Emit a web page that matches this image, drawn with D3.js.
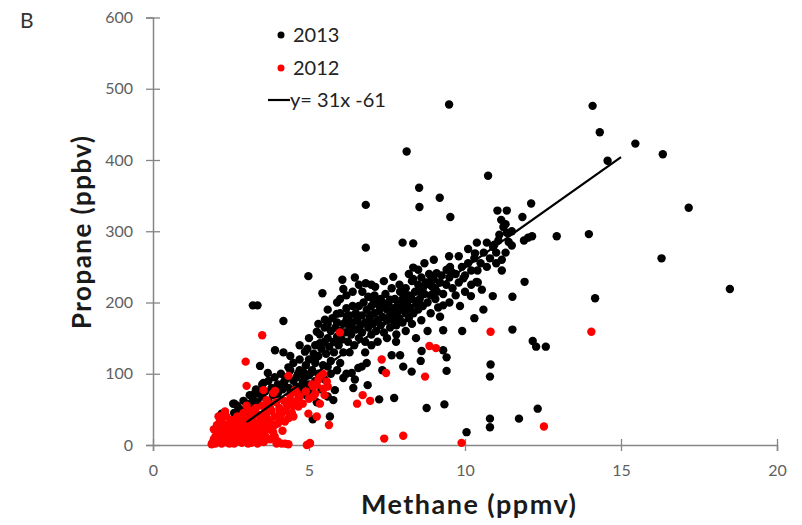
<!DOCTYPE html>
<html>
<head>
<meta charset="utf-8">
<script src="https://cdn.jsdelivr.net/npm/d3@7"></script>
<style>
  html, body { margin: 0; padding: 0; background: #fff; }
  svg { display: block; }
  text { font-family: Lato, "Open Sans", sans-serif; }
</style>
</head>
<body>
<svg id="chart" width="802" height="525"></svg>
<script>
// ---- Data (methane ppmv, propane ppbv) ----
const xTicks = [0, 5, 10, 15, 20];
const yTicks = [0, 100, 200, 300, 400, 500, 600];
const seriesNames = ["2013", "2012"];
const fitLabel = "y= 31x -61";
const fitLine = [[3.0, 32], [15.0, 404]];

const points2013 = [
  [9.49,478],[8.13,412],[8.53,361],[9.19,347],[8.54,334],[9.53,320],[10.74,378],[11.04,329],[11.34,329],[12.12,339],
  [11.84,320],[11.16,316],[11.23,306],[11.34,298],[11.07,287],[10.94,281],[10.38,284],[10.70,284],[10.32,269],[8.00,284],
  [8.34,283],[9.49,265],[11.18,260],[11.18,245],[14.09,476],[14.32,439],[15.46,423],[16.34,408],[14.57,399],[17.17,333],
  [12.94,293],[13.97,296],[12.15,293],[11.89,287],[12.02,291],[16.30,262],[11.91,229],[14.17,206],[18.49,219],[11.52,208],
  [10.89,209],[10.54,218],[10.41,228],[10.19,209],[9.84,195],[10.59,190],[10.30,178],[9.30,161],[9.91,160],[8.80,160],
  [11.52,162],[8.43,150],[12.17,146],[12.28,138],[12.59,138],[9.30,133],[8.61,132],[9.41,123],[7.92,126],[8.58,118],
  [8.02,110],[8.29,103],[9.41,104],[10.82,113],[10.80,96],[8.77,52],[9.34,57],[12.33,51],[10.80,37],[10.80,25],
  [11.73,37],[10.05,18],[7.79,145],[7.65,126],[7.35,105],[6.85,115],[6.69,110],[6.58,108],[6.37,101],[6.47,92],
  [6.10,94],[6.42,80],[6.88,84],[5.83,77],[5.78,63],[7.25,64],[7.73,66],[5.67,40],
  [4.18,174],[3.91,133],[4.18,130],[4.87,131],[5.25,159],[5.35,143],[3.43,111],[3.68,101],[4.34,109],[4.85,101],
  [3.54,87],[4.23,91],[3.27,73],[2.61,58],
  [6.82,337],[6.82,277],[4.98,237],[6.07,232],[6.47,235],[6.82,227],[6.10,219],[6.71,215],[7.12,222],[5.43,213],
  [3.20,196],[3.35,196],[5.51,176],[5.89,184],[6.21,181],[6.53,181],[6.96,182],[7.06,204],
  [7.70,236],[8.34,249],[8.50,246],[8.34,233],[9.52,250],[9.41,246],[9.57,243],[9.09,241],[8.93,234],[8.88,225],
  [9.04,220],[9.95,234],[10.37,229],[7.92,215],[8.08,211],[8.66,221],[8.56,215],[9.30,196],[9.14,193],[7.60,204],
  [7.38,199],[5.12,36],[4.87,98],[5.19,119],[2.2,44],[2.57,58],
  // dense core
  [4.6,95],[4.7,105],[4.8,88],[4.9,112],[5.0,98],[5.0,120],[4.95,135],[5.1,105],[5.15,128],[5.2,115],
  [5.2,140],[5.3,100],[5.3,125],[5.35,155],[5.4,135],[5.45,112],[5.5,145],[5.5,165],[5.55,128],[5.6,150],
  [5.6,170],[5.65,138],[5.7,118],[5.7,160],[5.75,178],[5.8,145],[5.8,130],[5.85,165],[5.9,152],[5.9,172],
  [5.95,140],[6.0,160],[6.0,185],[6.05,148],[6.1,170],[6.1,130],[6.15,158],[6.2,175],[6.2,192],[6.25,145],
  [6.3,165],[6.3,182],[6.35,155],[6.4,172],[6.4,195],[6.45,140],[6.5,162],[6.5,185],[6.55,175],[6.6,150],
  [6.6,195],[6.65,168],[6.7,182],[6.7,158],[6.75,200],[6.8,172],[6.8,145],[6.85,190],[6.9,165],[6.9,208],
  [6.95,178],[7.0,155],[7.0,195],[7.05,170],[7.1,185],[7.1,210],[7.15,160],[7.2,198],[7.2,175],[7.25,188],
  [7.3,168],[7.3,205],[7.35,180],[7.4,195],[7.4,158],[7.45,212],[7.5,175],[7.5,190],[7.55,200],[7.6,165],
  [7.6,182],[7.65,220],[7.7,192],[7.7,175],[7.75,205],[7.8,185],[7.8,168],[7.85,198],[7.9,178],[7.9,225],
  [7.95,190],[8.0,205],[8.0,172],[8.05,195],[8.1,185],[8.1,220],[8.15,200],[8.2,178],[8.2,210],[8.25,192],
  [8.3,230],[8.3,205],[8.35,185],[8.4,215],[8.45,198],[8.5,225],[8.5,190],[8.55,205],[8.6,235],[8.65,195],
  [8.7,212],[8.75,228],[8.8,200],[8.85,240],[8.9,210],[8.95,222],[9.0,232],[9.05,205],[9.1,215],[9.2,228],
  [9.25,238],[9.3,212],[9.4,225],[9.5,235],[9.6,220],[9.7,240],[9.8,228],[9.9,250],[10.0,238],[10.1,255],
  [10.2,245],[10.3,262],[10.5,255],[10.6,270],[10.8,262],[10.9,278],[11.0,270],[11.1,295],[11.3,310],[11.4,285],
  [11.5,300],
  // extra scatter around the band
  [5.3,170],[5.6,190],[5.9,200],[6.2,210],[6.0,205],[6.4,215],[6.6,225],[6.3,130],[6.8,130],[7.0,140],
  [7.2,145],[7.5,150],[7.8,155],[8.1,160],[8.3,170],[8.6,175],[8.9,185],[9.2,180],[9.5,200],[9.7,210],
  [10.0,215],[10.2,225],[9.8,265],[10.1,275],[10.4,245],[10.7,250],[11.0,255],[11.3,270],[11.5,280],[9.0,260],
  [8.7,255],[8.2,240],[7.4,230],[7.0,225],[5.0,150],[4.7,140],[4.4,125],[5.6,110],[6.0,115],[6.2,100],
  [5.9,105],
  // lower band (mixed with 2012)
  [2.6,45],[2.7,55],[2.8,50],[2.9,62],[3.0,58],[3.0,48],[3.1,70],[3.2,65],[3.2,55],[3.3,78],
  [3.35,60],[3.4,72],[3.5,68],[3.5,85],[3.6,75],[3.7,62],[3.7,90],[3.8,80],[3.85,70],[3.9,95],
  [4.0,85],[4.0,72],[4.1,100],[4.15,78],[4.2,88],[4.3,95],[4.35,80],[4.4,105],[4.5,90],[4.5,115],
  [4.6,82],[4.65,100],[4.7,120],[4.8,78],[4.85,95],[4.9,70],[5.0,85],[5.1,75],[5.2,90],[5.25,60],
  [5.4,78],[5.5,92],[5.6,68],[5.7,100]
];

const points2012 = [
  [3.50,154],[2.97,117],[4.34,97],[3.00,83],[3.91,76],[4.55,77],[2.31,47],[1.88,1],[4.12,2],[4.34,1],
  [5.03,2],[4.93,0],[5.03,3],[3.96,2],[4.23,2],[5.99,158],[7.33,120],[7.47,101],[8.72,96],[8.86,139],
  [9.07,136],[5.57,89],[6.72,70],[6.54,58],[6.96,62],[5.64,28],[7.41,9],[8.02,13],[9.89,3],[10.82,159],
  [14.05,159],[12.53,26],
  [5.35,96],[5.14,82],[5.46,79],[5.14,68],[5.35,58],[4.98,44],[5.25,40],[4.61,73],[4.66,54],[4.50,40],
  [4.23,33],[3.86,73],[3.64,63],[3.54,77],[3.75,52],[4.07,47],[4.39,63],[5.25,84],
  [1.9,3],[1.95,8],[2.0,2],[2.0,12],[2.05,18],[2.1,5],[2.1,25],[2.15,10],[2.2,2],[2.2,16],
  [2.25,30],[2.3,7],[2.3,22],[2.35,12],[2.4,3],[2.4,28],[2.45,18],[2.5,8],[2.5,35],[2.55,24],
  [2.6,2],[2.6,14],[2.65,30],[2.7,10],[2.7,40],[2.75,20],[2.8,5],[2.8,32],[2.85,15],[2.9,25],
  [2.9,45],[2.95,8],[3.0,18],[3.0,36],[3.05,2],[3.05,28],[3.1,12],[3.1,48],[3.15,22],[3.2,40],
  [3.2,5],[3.25,32],[3.3,15],[3.3,52],[3.35,25],[3.4,42],[3.4,8],[3.45,35],[3.5,18],[3.5,55],
  [3.55,28],[3.6,45],[3.6,12],[3.65,38],[3.7,22],[3.7,58],[3.75,32],[3.8,48],[3.85,18],[3.9,40],
  [3.95,60],[4.0,30],[4.05,52],[4.1,42],[4.2,62],[4.25,48],[4.3,55],[4.4,70],[4.45,45],[4.6,62],
  [4.7,68],[4.8,58],[4.9,75],[5.0,65],[5.1,85],[5.2,72],[5.3,92],[5.45,100],[5.5,70],[5.6,82],
  [2.35,40],[3.0,55],[2.15,35],[1.95,22],[2.05,28],[2.25,42],
  [2.45,2],[2.65,5],[2.85,3],[3.15,3],[3.35,2],[3.55,4],[3.75,8],[3.9,12],[4.0,5],[2.3,14],
  [2.5,20],[2.7,26],[2.9,35],[3.1,38],[3.3,45],[3.5,40],[3.7,48],[3.9,28],[4.1,35],[4.15,20],
  [4.35,38],[4.5,55],[2.1,40]
];

// ---- Chart ----
const svg = d3.select("#chart");
const x = d3.scaleLinear().domain([0, 20]).range([153, 777]);
const y = d3.scaleLinear().domain([0, 600]).range([445, 17.5]);
const axisColor = "#868686";
const tickFont = "Lato, 'Open Sans', sans-serif";

// Y axis
const gy = svg.append("g").attr("transform", `translate(${x(0)},0)`)
  .call(d3.axisLeft(y).tickValues(yTicks).tickSize(7).tickPadding(13).tickFormat(d3.format("d")));
gy.select(".domain").attr("stroke", axisColor).attr("stroke-width", 1.5);
gy.selectAll(".tick line").attr("x1", 7).attr("x2", -7).attr("stroke", axisColor).attr("stroke-width", 1.3);
gy.selectAll(".tick text").attr("fill", "#5f5f5f").style("font-size", "16px").style("font-family", tickFont);

// X axis
const gx = svg.append("g").attr("transform", `translate(0,${y(0)})`)
  .call(d3.axisBottom(x).tickValues(xTicks).tickSize(6).tickPadding(14).tickFormat(d3.format("d")));
gx.select(".domain").attr("stroke", axisColor).attr("stroke-width", 1.5);
gx.selectAll(".tick line").attr("y1", -6).attr("y2", 6).attr("stroke", axisColor).attr("stroke-width", 1.3);
gx.selectAll(".tick text").attr("fill", "#5f5f5f").style("font-size", "16px").style("font-family", tickFont);

// Points
svg.append("g").selectAll("circle").data(points2013).join("circle")
  .attr("cx", d => x(d[0])).attr("cy", d => y(d[1])).attr("r", 4.2).attr("fill", "#000");
svg.append("g").selectAll("circle").data(points2012).join("circle")
  .attr("cx", d => x(d[0])).attr("cy", d => y(d[1])).attr("r", 4.2).attr("fill", "#ff0000");

// Fit line
svg.append("path").datum(fitLine)
  .attr("d", d3.line().x(d => x(d[0])).y(d => y(d[1])))
  .attr("stroke", "#000").attr("stroke-width", 2.2).attr("fill", "none");

// Axis titles
svg.append("text").attr("x", 468.5).attr("y", 514).attr("text-anchor", "middle")
  .attr("font-weight", "bold").attr("font-size", 27).attr("fill", "#1a1a1a")
  .attr("textLength", 215).attr("lengthAdjust", "spacing").text("Methane (ppmv)");
svg.append("text").attr("transform", "translate(91,232.5) rotate(-90)").attr("text-anchor", "middle")
  .attr("font-weight", "bold").attr("font-size", 26).attr("fill", "#1a1a1a")
  .attr("textLength", 193).attr("lengthAdjust", "spacing").text("Propane (ppbv)");

// Panel label
svg.append("text").attr("x", 20).attr("y", 28).attr("font-size", 21).attr("fill", "#333").text("B");

// Legend
const lg = svg.append("g");
lg.append("circle").attr("cx", 281).attr("cy", 35).attr("r", 3.5).attr("fill", "#000");
lg.append("text").attr("x", 293).attr("y", 42).attr("font-size", 20).attr("fill", "#222").text(seriesNames[0]);
lg.append("circle").attr("cx", 281).attr("cy", 68).attr("r", 3.5).attr("fill", "#ff0000");
lg.append("text").attr("x", 293).attr("y", 75).attr("font-size", 20).attr("fill", "#222").text(seriesNames[1]);
lg.append("line").attr("x1", 268).attr("x2", 290).attr("y1", 100).attr("y2", 100)
  .attr("stroke", "#000").attr("stroke-width", 2.2);
lg.append("text").attr("x", 290).attr("y", 107).attr("font-size", 20).attr("fill", "#222").text(fitLabel);
</script>
</body>
</html>
